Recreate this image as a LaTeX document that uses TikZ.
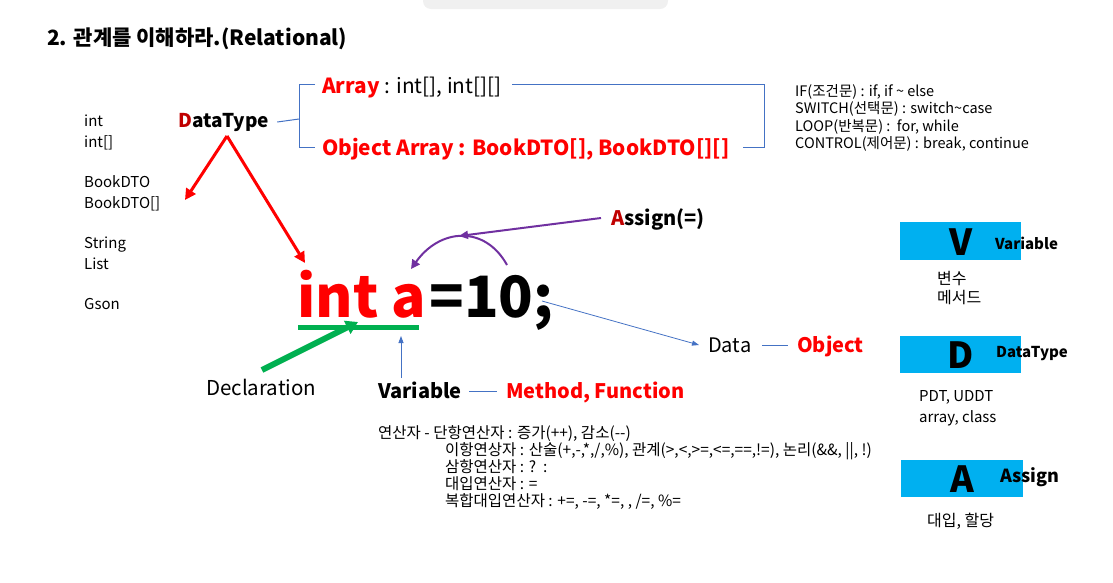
\documentclass[tikz,border=0pt]{standalone}
\usepackage{fontspec}
\setmainfont{Noto Sans CJK KR}
\usetikzlibrary{arrows.meta}
\newcommand\fsz[1]{\fontsize{#1}{#1}\selectfont}
\definecolor{myred}{HTML}{FF0000}
\definecolor{mydred}{HTML}{C00000}
\definecolor{myblue}{HTML}{4472C4}
\definecolor{mygreen}{HTML}{00B050}
\definecolor{mypurple}{HTML}{7030A0}
\definecolor{mycyan}{HTML}{00B0F0}
\tikzset{
  txt/.style={anchor=base west, inner sep=0pt, font=\fsz{15}},
  btxt/.style={anchor=base west, inner sep=0pt, font=\fsz{20}\bfseries},
  optxt/.style={anchor=base west, inner sep=0pt, font=\fsz{15.5}},
  ctxt/.style={anchor=base west, inner sep=0pt, font=\fsz{14.5}},
  bline/.style={myblue, line width=1pt},
  redarr/.style={myred, line width=3pt, -{Triangle[length=11pt,width=11pt]}},
}
\begin{document}
\begin{tikzpicture}[x=1pt,y=-1pt]
\useasboundingbox (0,0) rectangle (1113,582);
% top tab
\fill[black!6, rounded corners=8pt] (423,-12) rectangle (668,9);
% title
\node[anchor=base west, inner sep=0pt, font=\fsz{21}\bfseries] (title) at (47,45) {2. 관계를 이해하라.(Relational)};
% left list
\node[txt] (l1) at (84,126) {int};
\node[txt] (l2) at (84,147) {int[]};
\node[txt] (l3) at (84,187) {BookDTO};
\node[txt] (l4) at (84,208) {BookDTO[]};
\node[txt] (l5) at (84,248) {String};
\node[txt] (l6) at (84,269) {List};
\node[txt] (l7) at (84,309) {Gson};
% DataType
\node[btxt, font=\fsz{19}\bfseries] (dt) at (178,127) {\textcolor{mydred}{D}ataType};
% bracket
\coordinate (br) at (299,119);
\node[btxt, font=\fsz{20.8}\bfseries] (arr) at (322,93) {\textcolor{myred}{Array}\mdseries\ : int[], int[][]};
\node[btxt, font=\fsz{20.8}\bfseries, text=myred] (oarr) at (322,155) {Object Array : BookDTO[], BookDTO[][]};
\draw[bline] (dt.east) ++(8pt,0) -- (br);
\draw[bline] (315,84) -- (299,84) -- (299,147) -- (315,147);
\draw[bline] (512,84) -- (764,84) -- (764,147) -- (743,147);
% control statements
\node[ctxt] (c1) at (795,96) {IF(조건문) : if, if \textasciitilde{} else};
\node[ctxt] (c2) at (795,113) {SWITCH(선택문) : switch\textasciitilde{}case};
\node[ctxt] (c3) at (795,131) {LOOP(반복문) :\ \ for, while};
\node[ctxt] (c4) at (795,148) {CONTROL(제어문) : break, continue};
% main statement
\node[anchor=base west, inner sep=0pt, font=\fsz{57}\bfseries, text=myred] (inta) at (297,317) {int a};
\node[anchor=base west, inner sep=0pt, font=\fsz{57}\bfseries] (ten) at ([xshift=3pt]inta.base east) {=10;};
% red arrows
\coordinate (dtb) at (227,136);
\coordinate (lt) at (185,200);
\coordinate (it) at (305,263);
\draw[redarr] (dtb) -- (lt);
\draw[redarr] (dtb) -- (it);
% green underline and arrow
\coordinate (ul1) at (298,327);
\coordinate (ul2) at (419,327);
\draw[mygreen, line width=5pt] (ul1) -- (ul2);
\coordinate (gs) at (262,370);
\coordinate (ge) at (358,322);
\draw[mygreen, line width=6pt, -{Triangle[length=12pt,width=14pt]}] (gs) -- (ge);
\node[anchor=base west, inner sep=0pt, font=\fsz{20.5}] (decl) at (206,395) {Declaration};
% Variable
\node[btxt] (var) at (378,398) {Variable};
\node[btxt, text=myred] (meth) at (506,398) {Method, Function};
\draw[bline] (469,391) -- (497,391);
\coordinate (vt) at (401,336);
\draw[myblue, line width=0.8pt, -{Triangle[length=7pt,width=5pt]}] (401,378) -- (vt);
% Assign
\node[btxt] (asg) at (611,225) {\textcolor{mydred}{A}ssign(=)};
\coordinate (asgp) at (459,236);
\draw[mypurple, line width=2pt, -{Triangle[length=9pt,width=8pt]}] (601,218) -- (asgp);
\coordinate (cs) at (507,265);
\coordinate (ce) at (411,269);
\draw[mypurple, line width=2pt, -{Triangle[length=9pt,width=9pt]}] (cs) .. controls (485,225) and (440,228) .. (ce);
% Data Object
\node[anchor=base west, inner sep=0pt, font=\fsz{20}] (data) at (708,352) {Data};
\node[btxt, text=myred] (obj) at (797,352) {Object};
\draw[bline] (762,345) -- (788,345);
\coordinate (semi) at (542,301);
\coordinate (de) at (699,345);
\draw[myblue, line width=0.8pt, -{Triangle[length=7pt,width=5pt]}] (semi) -- (de);
% operators
\node[optxt] (o1) at (378,438) {연산자 - 단항연산자 : 증가(++), 감소(-\kern0pt-)};
\node[optxt] (o2) at (445,455) {이항연상자 : 산술(+,-,*,/,\%), 관계(>,<,>=,<=,==,!=), 논리(\&\&, ||, !)};
\node[optxt] (o3) at (445,472) {삼항연산자 : ?\ \ :};
\node[optxt] (o4) at (445,489) {대입연산자 : =};
\node[optxt] (o5) at (445,506) {복합대입연산자 : +=, -=, *=, , /=, \%=};
% right boxes
\fill[mycyan] (900,222) rectangle (1021,260);
\node[font=\fsz{36}\bfseries, inner sep=0pt] (V) at (961,242) {V};
\node[anchor=west, inner sep=0pt, font=\fsz{15}\bfseries] (Vt) at (995,243) {Variable};
\node[txt, font=\fsz{16}] (v1) at (937,284) {변수};
\node[txt, font=\fsz{16}] (v2) at (937,303) {메서드};
\fill[mycyan] (900,336) rectangle (1021,373);
\node[font=\fsz{36}\bfseries, inner sep=0pt] (D) at (961,355) {D};
\node[anchor=west, inner sep=0pt, font=\fsz{15}\bfseries] (Dt) at (996,354) {DataType};
\node[txt] (d1) at (919,401) {PDT, UDDT};
\node[txt] (d2) at (919,422) {array, class};
\fill[mycyan] (901,460) rectangle (1023,497);
\node[font=\fsz{36}\bfseries, inner sep=0pt] (A) at (962,479) {A};
\node[anchor=west, inner sep=0pt, font=\fsz{18}\bfseries] (At) at (1000,477) {Assign};
\node[txt, font=\fsz{16}] (a1) at (927,526) {대입, 할당};
\end{tikzpicture}
\end{document}
